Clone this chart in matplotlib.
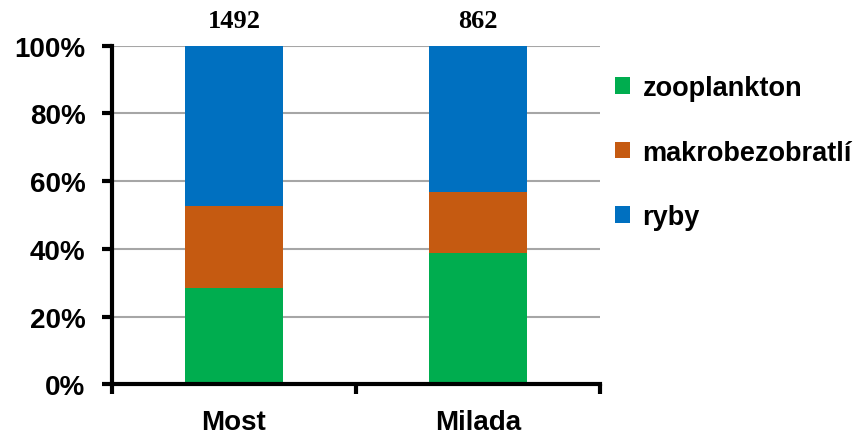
import numpy as np
import matplotlib.pyplot as plt
from matplotlib.patches import Patch

# data (podíl v %)
sites = ['Most', 'Milada']
counts = ['1492', '862']
zooplankton = [28.4, 38.8]
makrobezobratli = [24.2, 18.1]
ryby = [47.4, 43.1]

series = [('zooplankton', zooplankton, '#00ad4f'),
          ('makrobezobratlí', makrobezobratli, '#c55a11'),
          ('ryby', ryby, '#0070c0')]

fig = plt.figure(figsize=(8.64, 4.39), dpi=100)
ax = fig.add_axes([0.1296, 0.1219, 0.5645, 0.7717])

x = np.arange(len(sites))
bottom = np.zeros(len(sites))
handles = []
for name, vals, col in series:
    ax.bar(x, vals, width=0.4, bottom=bottom, color=col, zorder=3)
    bottom += np.array(vals)
    handles.append(Patch(facecolor=col, label=name))

ax.set_xlim(-0.5, 1.5)
ax.set_ylim(0, 100)
ax.set_yticks(np.arange(0, 101, 20))
ax.set_yticklabels([f'{v}%' for v in range(0, 101, 20)],
                   fontfamily='Liberation Sans', fontweight='bold', fontsize=20)
ax.yaxis.grid(True, color='#a6a6a6', linewidth=1.5, zorder=0)

# category labels in the middle, tick marks on the boundaries
ax.set_xticks(x)
ax.set_xticklabels(sites, fontfamily='Liberation Sans', fontweight='bold', fontsize=20)
ax.tick_params(axis='x', which='major', length=0, pad=18)
ax.set_xticks([-0.5, 0.5, 1.5], minor=True)
ax.tick_params(axis='x', which='minor', length=7, width=3, direction='out', color='black')
ax.tick_params(axis='y', length=7, width=3, direction='out', color='black', pad=12)

for side in ['top', 'right']:
    ax.spines[side].set_visible(False)
for side in ['left', 'bottom']:
    ax.spines[side].set_linewidth(3)
    ax.spines[side].set_zorder(4)

for xi, c in zip(x, counts):
    ax.text(xi, 104, c, ha='center', va='bottom', fontfamily='Liberation Serif',
            fontweight='bold', fontsize=19)

fig.legend(handles=handles, loc='upper left', bbox_to_anchor=(0.684, 0.882),
           frameon=False, handlelength=0.55, handleheight=0.55, handletextpad=0.45,
           labelspacing=1.42, prop={'family': 'Liberation Sans', 'weight': 'bold', 'size': 19.5})

fig.savefig('out.png', dpi=100)
